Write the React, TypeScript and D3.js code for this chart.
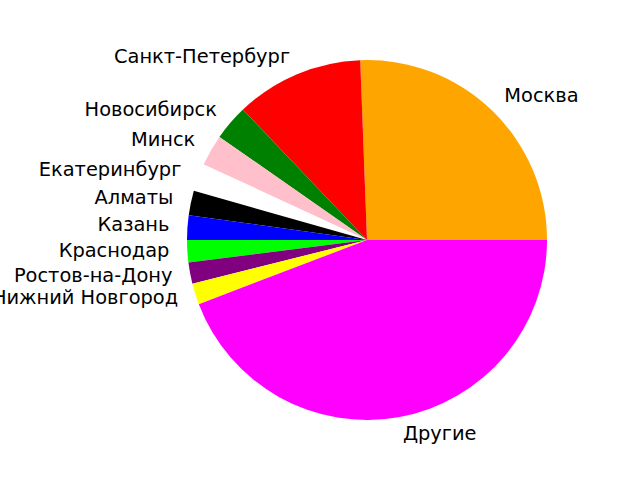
import React from 'react';
import * as d3 from 'd3';

const cities = ['Москва', 'Санкт-Петербург', 'Новосибирск', 'Минск', 'Екатеринбург', 'Алматы', 'Казань', 'Краснодар', 'Ростов-на-Дону', 'Нижний Новгород', 'Другие'];
const shares = [25.6, 11.5, 3.2, 2.8, 2.5, 2.2, 2.2, 2.0, 1.9, 1.9, 44.2];
const colors = ['orange', 'red', 'green', 'pink', 'white', 'black', 'blue', 'lime', 'purple', 'yellow', 'magenta'];

const width = 640;
const height = 480;
const cx = 367;
const cy = 240;
const radius = 180;

export default function App() {
	// matplotlib starts at 3 o'clock and goes counterclockwise
	const pie = d3.pie<number>()
		.sort(null)
		.startAngle(Math.PI / 2)
		.endAngle(Math.PI / 2 - 2 * Math.PI);
	const arcs = pie(shares);
	const arc = d3.arc<d3.PieArcDatum<number>>()
		.innerRadius(0)
		.outerRadius(radius);

	return (
		<svg width={width} height={height} style={{ position: 'absolute', left: 0, top: 0 }}>
			<rect width={width} height={height} fill="white" />
			<g transform={`translate(${cx},${cy})`}>
				{arcs.map((a, i) => (
					<path key={cities[i]} d={arc(a) || ''} fill={colors[i]} />
				))}
				{arcs.map((a, i) => {
					const mid = (a.startAngle + a.endAngle) / 2;
					const x = 1.1 * radius * Math.sin(mid);
					const y = -1.1 * radius * Math.cos(mid);
					return (
						<text
							key={'l' + i}
							x={x}
							y={y}
							dy="0.26em"
							textAnchor={x > 0 ? 'start' : 'end'}
							fontFamily="DejaVu Sans"
							fontSize={19.4}
							fill="black"
						>
							{cities[i]}
						</text>
					);
				})}
			</g>
		</svg>
	);
}
